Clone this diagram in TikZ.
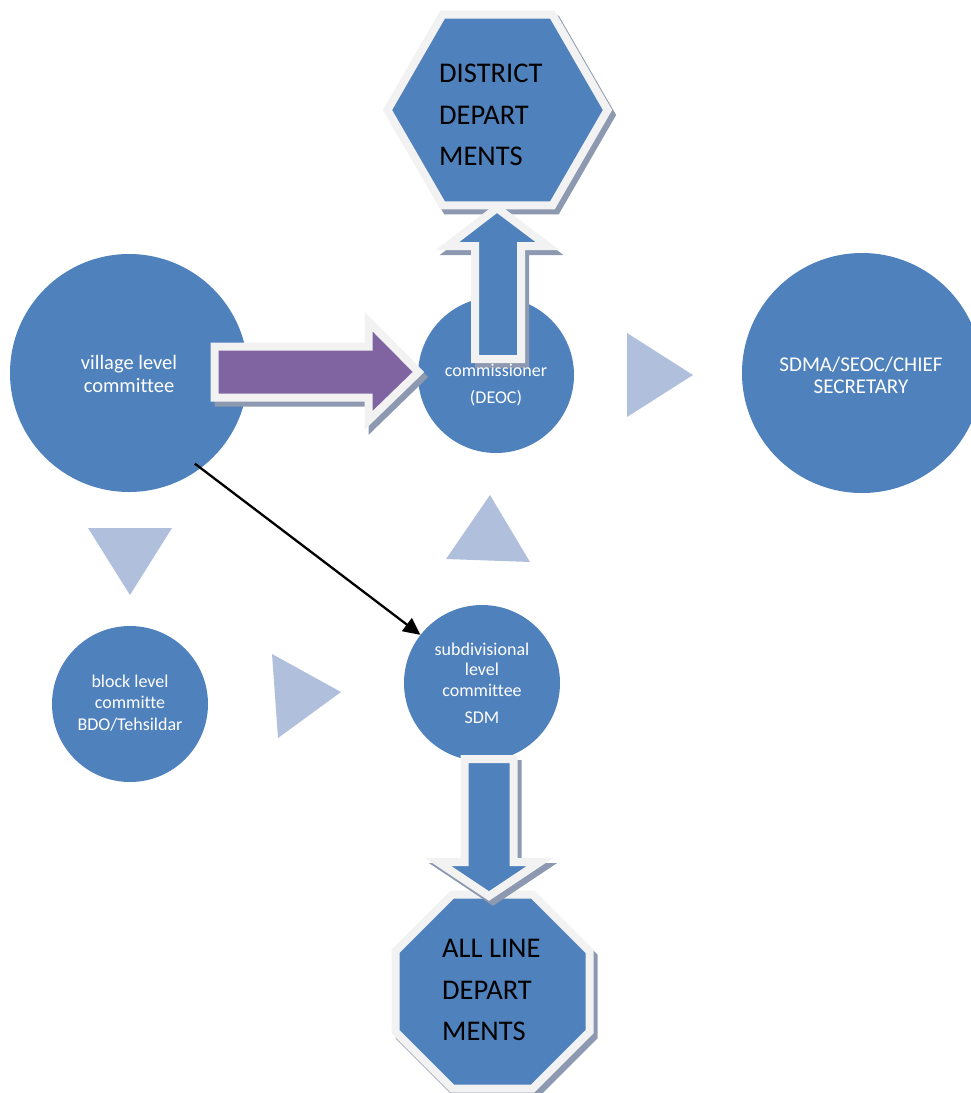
\documentclass[tikz,border=0pt]{standalone}
\usepackage{fontspec}
\setmainfont{Carlito}[Ligatures=NoCommon]
\usetikzlibrary{shadows,shapes.geometric,arrows.meta,calc}
\definecolor{nodeblue}{HTML}{4F81BD}
\definecolor{trifill}{HTML}{B0C0DC}
\definecolor{arrpurple}{HTML}{8064A2}
\definecolor{rim}{HTML}{F2F2F2}
\definecolor{shade}{HTML}{8C99B0}
\begin{document}
\begin{tikzpicture}[x=1pt,y=-1pt,
  circ/.style={circle, fill=nodeblue, inner sep=0pt},
  lbl/.style={text=white, align=center, inner sep=0pt},
  tri/.style={fill=trifill},
  polynode/.style={regular polygon, fill=nodeblue, draw=rim, line width=8pt, inner sep=0pt, line join=miter,
     copy shadow={shadow xshift=4pt, shadow yshift=-5pt, fill=shade, draw=shade, line width=8pt}},
  bigtext/.style={text=black, align=left, inner sep=0pt, font=\fontsize{28.5}{41.5}\selectfont},
  arrshadow/.style={fill=shade, draw=shade, line width=8pt, line join=miter},
  blockarrow/.style={draw=rim, line width=8pt, line join=miter},
  link/.style={line width=2.3pt, -{Triangle[length=17pt,width=16pt]}}
  ]
\useasboundingbox (0,0) rectangle (971,1093);

% circles
\node[circ, minimum size=238pt] (village) at (129,373) {};
\node[circ, minimum size=156pt] (comm) at (496,375) {};
\node[circ, minimum size=240pt] (sdma) at (862,373) {};
\node[circ, minimum size=156pt] (block) at (130,704) {};
\node[circ, minimum size=156pt] (sub) at (482,683) {};

\node[lbl, font=\fontsize{20.5}{23}\selectfont] (villagetxt) at (129,374) {village level\\committee};
\node[lbl, font=\fontsize{21}{22}\selectfont] (sdmatxt) at (861,375) {SDMA/SEOC/CHIEF\\SECRETARY};
\node[lbl, font=\fontsize{18}{21.5}\selectfont] (blocktxt) at (130,703) {block level\\committe\\BDO/Tehsildar};
\node[lbl, font=\fontsize{18}{20.5}\selectfont] (subtxt) at (482,683) {subdivisional\\level\\committee\\[6.5pt]SDM};

% triangles
\fill[tri] (88,528) -- (172,528) -- (130,595) -- cycle;
\fill[tri] (272,654) -- (341,692) -- (278,738) -- cycle;
\fill[tri] (446,559) -- (490,495) -- (530,562) -- cycle;
\fill[tri] (627,333) -- (693,375) -- (627,417) -- cycle;

% hexagon and octagon
\node[polynode, regular polygon sides=6, minimum size=220pt] (dist) at (497.5,110) {};
\node[bigtext, anchor=west] (disttxt) at (439,115) {DISTRICT\\DEPART\\MENTS};
\node[polynode, regular polygon sides=8, minimum size=210pt] (line) at (492.5,991.5) {};
\node[bigtext, anchor=west] (linetxt) at (442,990) {ALL LINE\\DEPART\\MENTS};

% black connector
\draw[link] ($(village.center)!0.94!(village.-54)$) -- (sub.142);

% purple block arrow village -> commissioner
\begin{scope}[shift={(4,5)}]
\path[arrshadow] (214.5,346.5) -- (368.5,346.5) -- (368.5,321.5) -- (418.5,372) -- (368.5,420.5) -- (368.5,397.5) -- (214.5,397.5) -- cycle;
\end{scope}
\path[blockarrow, fill=arrpurple] (214.5,346.5) -- (368.5,346.5) -- (368.5,321.5) -- (418.5,372) -- (368.5,420.5) -- (368.5,397.5) -- (214.5,397.5) -- cycle;

% up block arrow commissioner -> district
\begin{scope}[shift={(4,5)}]
\path[arrshadow] (475,359) -- (475,246) -- (447.5,246) -- (497,208) -- (547.5,246) -- (521,246) -- (521,359) -- cycle;
\end{scope}
\path[blockarrow, fill=nodeblue] (475,359) -- (475,246) -- (447.5,246) -- (497,208) -- (547.5,246) -- (521,246) -- (521,359) -- cycle;

% down block arrow subdivisional -> line departments
\begin{scope}[shift={(4,5)}]
\path[arrshadow] (464.5,759) -- (513.5,759) -- (513.5,862) -- (540,862) -- (489,896) -- (438,862) -- (464.5,862) -- cycle;
\end{scope}
\path[blockarrow, fill=nodeblue] (464.5,759) -- (513.5,759) -- (513.5,862) -- (540,862) -- (489,896) -- (438,862) -- (464.5,862) -- cycle;

\node[lbl, font=\fontsize{18}{27}\selectfont] (commtxt) at (496,385) {commissioner\\(DEOC)};
\end{tikzpicture}
\end{document}
